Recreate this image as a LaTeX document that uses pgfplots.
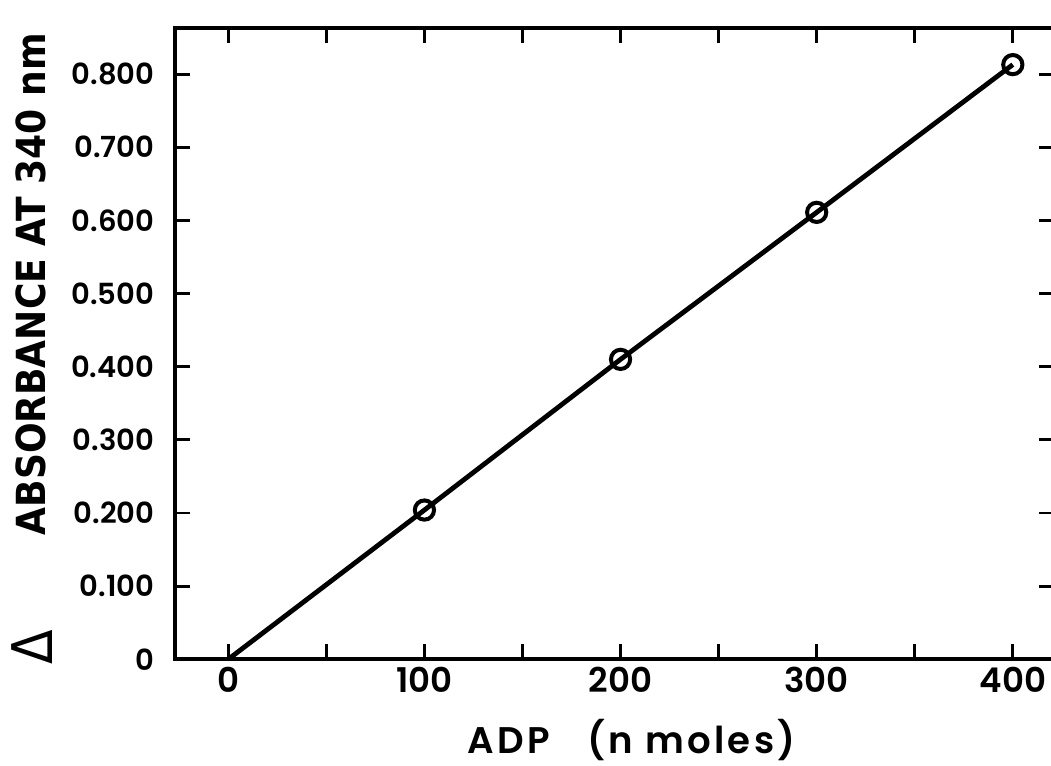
\documentclass[border=0pt]{standalone}
\usepackage{fontspec}
\setmainfont{Poppins}
\newfontfamily\tickfont{Poppins SemiBold}
\newfontfamily\lsfont{Poppins SemiBold}[LetterSpace=9]
\newfontfamily\condfont{DejaVu Sans Condensed}
\usepackage{pgfplots}
\pgfplotsset{compat=1.18}

\begin{document}
\begin{tikzpicture}
\begin{axis}[
  scale only axis, width=438.5pt, height=315pt,
  xmin=-27, xmax=421, ymin=0, ymax=0.863,
  axis line style={line width=2pt},
  tick style={line width=1.4pt, black},
  major tick length=7.5pt, minor tick length=7.5pt,
  tick align=inside,
  xtick={0,100,200,300,400},
  xticklabels={0,100,200,300,400},
  minor xtick={50,150,250,350},
  ytick={0,0.1,0.2,0.3,0.4,0.5,0.6,0.7,0.8},
  yticklabels={0,0.100,0.200,0.300,0.400,0.500,0.600,0.700,0.800},
  /pgf/number format/assume math mode=true,
  xticklabel style={font=\tickfont\fontsize{17}{19}\selectfont, yshift=-0.5pt},
  yticklabel style={font=\tickfont\fontsize{14.5}{16}\selectfont, xshift=-7pt},
  clip=false,
]
\addplot[black, line width=2.4pt, mark=none] coordinates {(0,0)(100,0.204)(200,0.410)(300,0.611)(400,0.813)};
\addplot[only marks, mark=o, mark size=4.8pt, mark options={line width=2pt, fill=white, draw=black}]
  coordinates {(100,0.204)(200,0.410)(300,0.611)(400,0.813)};
\node[anchor=base, font=\lsfont\fontsize{18.5}{20}\selectfont]
  at ([xshift=8.5pt, yshift=-47pt]rel axis cs:0.5,0) {ADP\quad(n moles)};
\node[rotate=90, anchor=center, font=\condfont\bfseries\fontsize{20}{22}\selectfont]
  at ([xshift=-72pt]rel axis cs:0,0.594) {ABSORBANCE AT 340 nm};
\node[rotate=90, anchor=center, font=\condfont\fontsize{28}{30}\selectfont]
  at ([xshift=-71.5pt]rel axis cs:0,0.019) {Δ};
\end{axis}
\pgfresetboundingbox
\path[use as bounding box] (-87.5pt,-53pt) rectangle (437pt,329pt);
\end{tikzpicture}
\end{document}
